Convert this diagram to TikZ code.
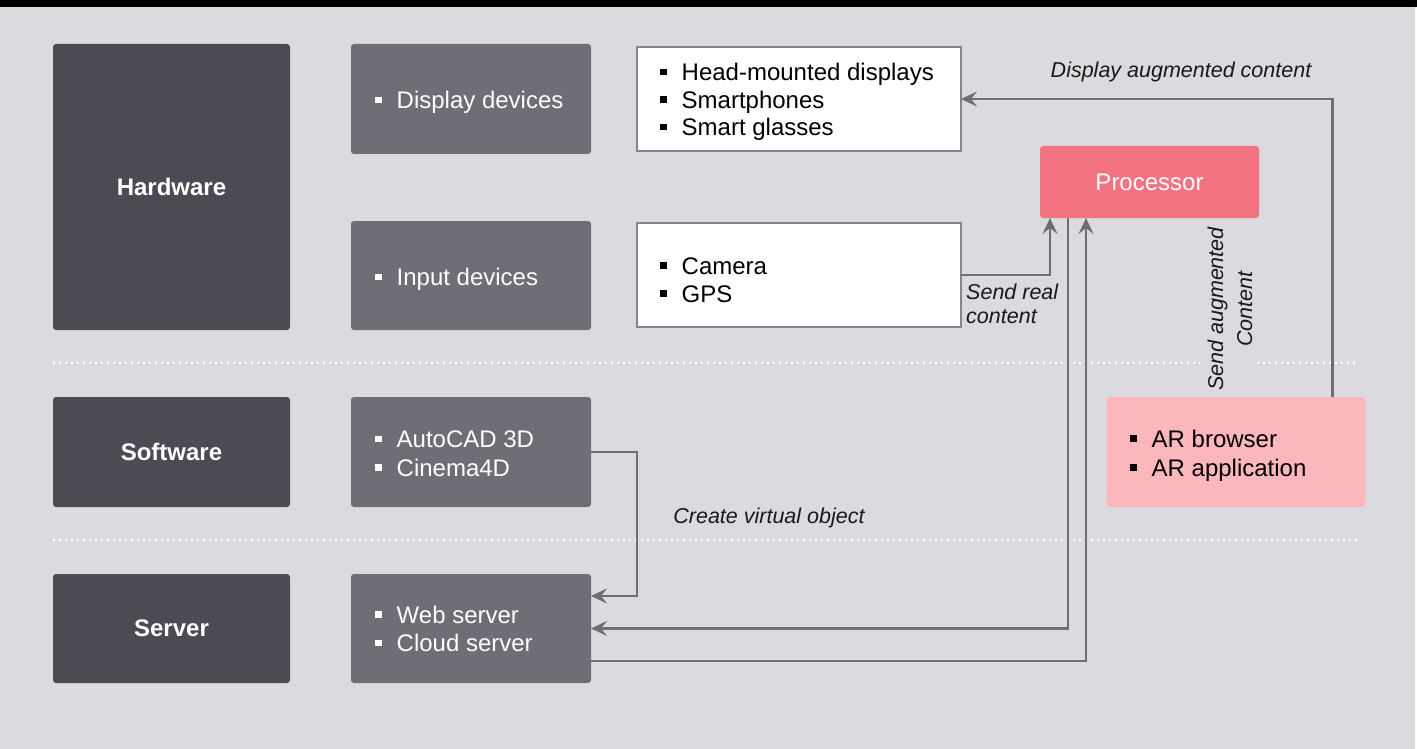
\documentclass[tikz,border=0pt]{standalone}
\usepackage{fontspec}
\setmainfont{Liberation Sans}
\usetikzlibrary{arrows.meta}
\definecolor{bgc}{HTML}{DADADF}
\definecolor{darkc}{HTML}{4B4B53}
\definecolor{midc}{HTML}{6E6E76}
\definecolor{procc}{HTML}{F47381}
\definecolor{arc}{HTML}{FBB7BC}
\definecolor{linec}{HTML}{6E6E76}
\definecolor{borderc}{HTML}{85858C}
\newcommand{\bul}{\rule[5.5pt]{6.5pt}{6.5pt}\hspace{15pt}}
\begin{document}
\begin{tikzpicture}[x=1pt,y=-1pt,
 box/.style={rounded corners=3pt, inner sep=0pt, outer sep=0pt, draw=none},
 catbox/.style={box, fill=darkc, minimum width=237pt, minimum height=110pt, text=white, font=\fontsize{24}{28}\selectfont\bfseries},
 subbox/.style={box, fill=midc, minimum width=240pt, minimum height=110pt},
 wbox/.style={fill=white, draw=borderc, line width=1.2pt, inner sep=0pt, outer sep=0pt, minimum width=324pt},
 item/.style={anchor=base west, align=left, inner sep=0pt, font=\fontsize{24}{28.5}\selectfont},
 lbl/.style={font=\fontsize{21.5}{24}\selectfont\itshape, text=black!90, inner sep=0pt},
 conn/.style={draw=linec, line width=2.5pt},
 arr/.style={conn, -{Stealth[length=16pt,width=15pt,inset=6pt]}},
 dotline/.style={white, line width=2pt, dash pattern=on 2pt off 4pt}]
\useasboundingbox (0,0) rectangle (1417,749);
\fill[bgc] (0,0) rectangle (1415,749);
\fill[black] (0,0) rectangle (1417,7);
% separators
\draw[dotline] (53,363) -- (1200,363);
\draw[dotline] (1257,363) -- (1357,363);
\draw[dotline] (53,540) -- (1357,540);
% category boxes
\node[catbox, minimum height=286pt] (hw) at (171.5,187) {Hardware};
\node[catbox] (sw) at (171.5,452) {Software};
\node[catbox, minimum height=109pt] (sv) at (171.5,628.5) {Server};
% sub boxes
\node[subbox] (dispdev) at (471,99) {};
\node[subbox, minimum height=109pt] (inpdev) at (471,275.5) {};
\node[subbox] (swsub) at (471,452) {};
\node[subbox, minimum height=109pt] (svsub) at (471,628.5) {};
% white boxes
\node[wbox, minimum height=104pt] (wb1) at (799,99) {};
\node[wbox, minimum height=104pt] (wb2) at (799,275) {};
% processor and AR
\node[box, fill=procc, minimum width=219pt, minimum height=72pt, text=white, font=\fontsize{24}{28}\selectfont] (proc) at (1149.5,182) {Processor};
\node[box, fill=arc, minimum width=259pt, minimum height=110pt] (arbox) at (1236,452) {};
% texts (base anchor = last line)
\node[item, text=white] (tdisp) at (375,109) {\bul Display devices};
\node[item, text=white] (tinp) at (375,285.7) {\bul Input devices};
\node[item, text=white] (tsw) at (375,476) {\bul AutoCAD 3D\\\bul Cinema4D};
\node[item, text=white] (tsv) at (375,651.7) {\bul Web server\\\bul Cloud server};
\node[item, font=\fontsize{24}{27.5}\selectfont] (twb1) at (660,135.7) {\bul Head-mounted displays\\\bul Smartphones\\\bul Smart glasses};
\node[item, font=\fontsize{24}{28}\selectfont] (twb2) at (660,302.3) {\bul Camera\\\bul GPS};
\node[item, font=\fontsize{24}{29}\selectfont] (tar) at (1130,476) {\bul AR browser\\\bul AR application};
% connectors
\draw[arr] ([xshift=226pt]arbox.north west) |- (wb1.east);
\node[lbl, anchor=base] (ldisp) at (1181,78) {Display augmented content};
\draw[arr] (wb2.east) -| ([xshift=10pt]proc.south west);
\node[lbl, anchor=north west, align=left] (lreal) at (966,283.5) {Send real\\content};
\draw[arr] ([xshift=28pt]proc.south west) |- (svsub.east);
\draw[arr] ([yshift=-32.5pt]svsub.east) -| ([xshift=46pt]proc.south west);
\draw[arr] (swsub.east) -- ++(46,0) |- ([yshift=32.5pt]svsub.east);
\node[lbl, anchor=base] (lcreate) at (769,523) {Create virtual object};
\node[lbl, rotate=90, align=center, font=\fontsize{21.5}{29}\selectfont\itshape] (laug) at (1230,309) {Send augmented\\Content};
\end{tikzpicture}
\end{document}
